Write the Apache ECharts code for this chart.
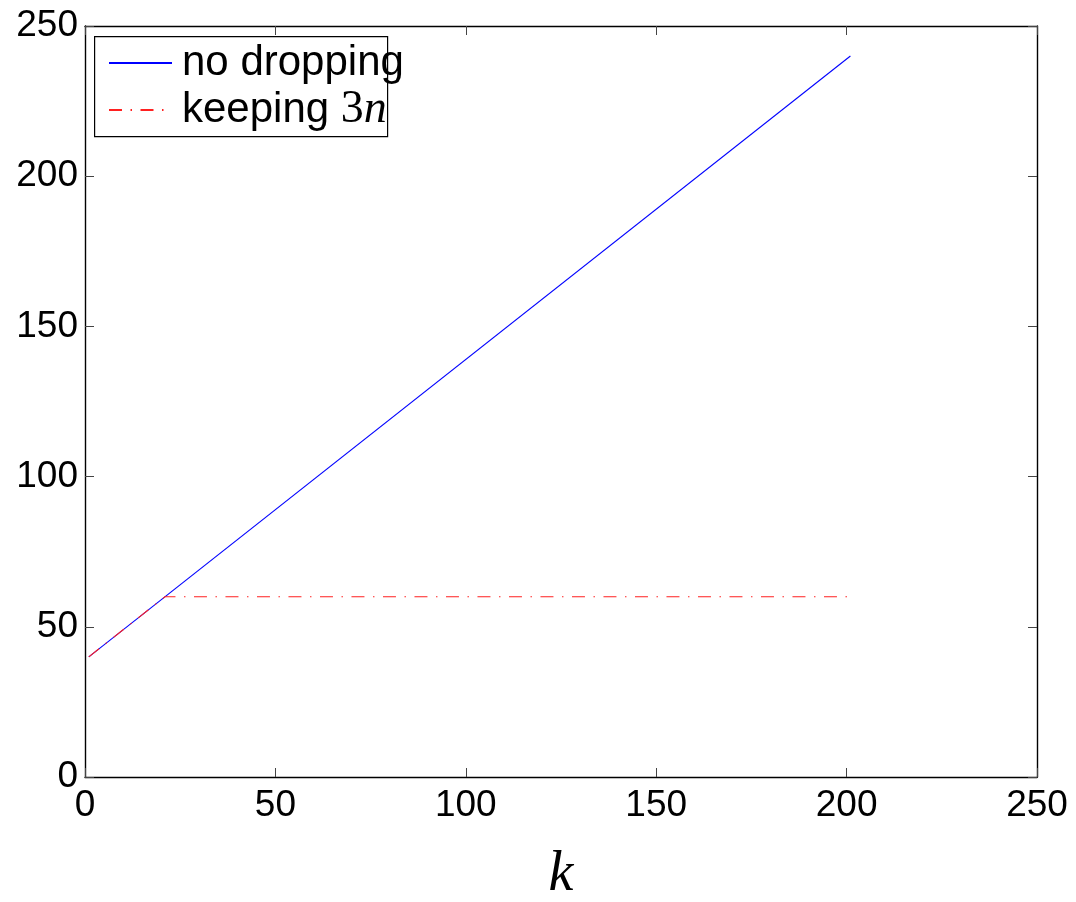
<!DOCTYPE html>
<html>
<head>
<meta charset="utf-8">
<script src="https://cdn.jsdelivr.net/npm/echarts@6/dist/echarts.min.js"></script>
<style>
  html, body { margin: 0; padding: 0; background: #fff; }
  #chart { width: 1076px; height: 902px; }
</style>
</head>
<body>
<div id="chart"></div>
<script>
// data
const axisTicks = [0, 50, 100, 150, 200, 250];
const noDropK = [1, 201];
const noDropVal = [40, 240];
const keepK = [1, 21, 201];
const keepVal = [40, 60, 60];

const pairs = (xs, ys) => xs.map((x, i) => [x, ys[i]]);

const chart = echarts.init(document.getElementById('chart'));

const tickFont = {
  color: '#000',
  fontSize: 37,
  fontFamily: 'Liberation Sans, Arial, sans-serif',
};

const baseAxis = {
  type: 'value',
  min: axisTicks[0],
  max: axisTicks[axisTicks.length - 1],
  interval: 50,
  splitLine: { show: false },
  axisLine: { show: true, onZero: false, lineStyle: { color: '#000', width: 1.4 } },
  axisTick: { show: true, inside: true, length: 9, lineStyle: { color: '#444', width: 1 } },
};

const option = {
  backgroundColor: '#fff',
  animation: false,
  grid: { left: 85, right: 39, top: 26, bottom: 125, outerBoundsMode: 'none' },
  // legend frame is drawn separately: in the original the text spills past it
  graphic: [{
    type: 'rect',
    left: 94,
    top: 36,
    shape: { width: 293, height: 100 },
    style: { fill: '#fff', stroke: '#000', lineWidth: 1.2 },
    z: 10,
  }],
  legend: {
    orient: 'vertical',
    left: 94,
    top: 37,
    padding: [5, 2, 5, 14],
    borderWidth: 0,
    itemWidth: 63,
    itemHeight: 20,
    itemGap: 3,
    z: 20,
    itemStyle: { opacity: 0 },
    data: ['no dropping', 'keeping 3n'],
    formatter: name => name === 'keeping 3n'
      ? '{t|keeping }{m|3}{i|n}'
      : '{t|' + name + '}',
    textStyle: {
      color: '#000',
      fontSize: 42,
      fontFamily: 'Liberation Sans, Arial, sans-serif',
      rich: {
        t: { fontSize: 42, fontFamily: 'Liberation Sans, Arial, sans-serif', padding: [0, 0, 0, 5] },
        m: { fontSize: 46, fontFamily: 'Liberation Serif, serif' },
        i: { fontSize: 46, fontFamily: 'Liberation Serif, serif', fontStyle: 'italic' },
      },
    },
  },
  xAxis: [
    Object.assign({}, baseAxis, {
      position: 'bottom',
      name: 'k',
      nameLocation: 'middle',
      nameGap: 70,
      nameTextStyle: {
        color: '#000',
        fontSize: 56,
        fontStyle: 'italic',
        fontFamily: 'Liberation Serif, serif',
      },
      axisLabel: Object.assign({ margin: 10 }, tickFont),
    }),
    Object.assign({}, baseAxis, {
      position: 'top',
      axisLabel: { show: false },
    }),
  ],
  yAxis: [
    Object.assign({}, baseAxis, {
      position: 'left',
      axisLabel: Object.assign({ margin: 7 }, tickFont),
    }),
    Object.assign({}, baseAxis, {
      position: 'right',
      axisLabel: { show: false },
    }),
  ],
  series: [
    {
      name: 'no dropping',
      type: 'line',
      data: pairs(noDropK, noDropVal),
      symbol: 'none',
      lineStyle: { color: '#0000ff', width: 1.1 },
      itemStyle: { color: '#0000ff' },
      z: 2,
    },
    {
      name: 'keeping 3n',
      type: 'line',
      data: pairs(keepK, keepVal),
      symbol: 'none',
      lineStyle: { color: '#ff2020', width: 1.1, type: [13, 8.5, 1.5, 8.5] },
      itemStyle: { color: '#ff2020' },
      z: 3,
    },
  ],
};

chart.setOption(option);
</script>
</body>
</html>
